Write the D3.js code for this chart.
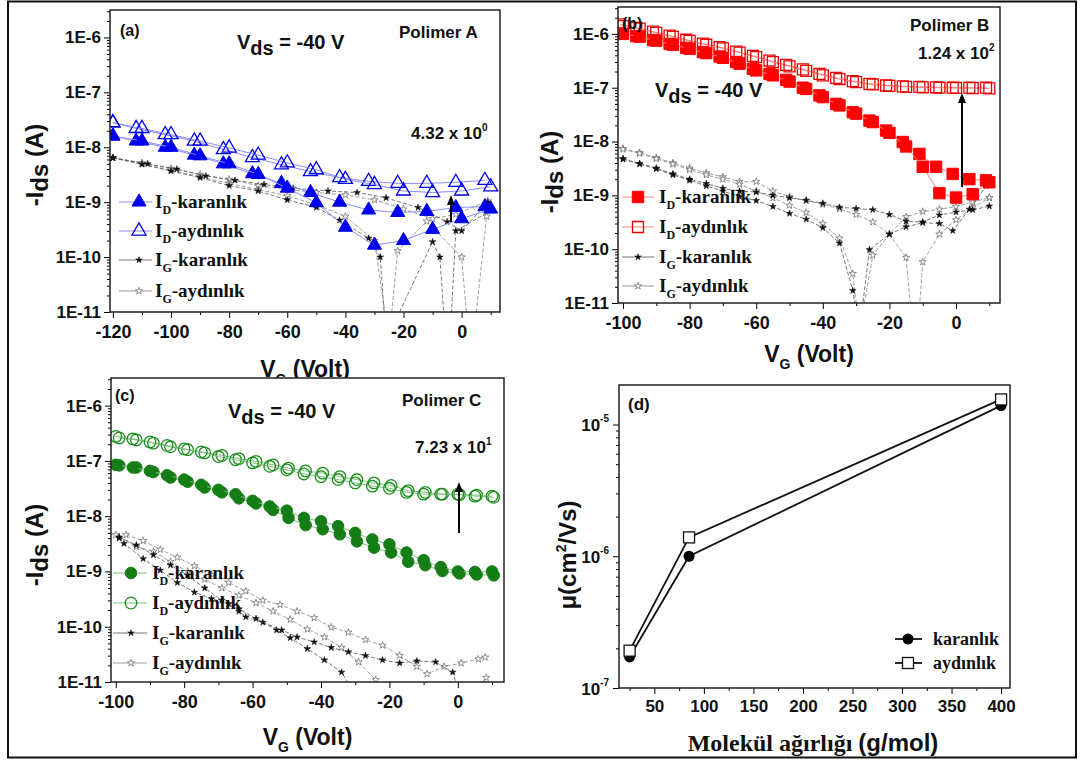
<!DOCTYPE html>
<html>
<head>
<meta charset="utf-8">
<script src="https://cdn.jsdelivr.net/npm/d3@7"></script>
<style>
body { margin: 0; background: #fff; }
svg { display: block; }
</style>
</head>
<body>
<div class="canvas"></div>
<script>
// ---- data: panel (a) Polimer A ----
const aX1 = [-120, -110, -100, -90, -80, -70, -60, -50, -40, -30, -20, -10, 0, 10];
const aX2 = [-120, -112, -102, -92, -82, -72, -62, -52, -42, -32, -22, -12, -2, 8];
const aDark1 = [1.6e-8, 1.3e-8, 1.0e-8, 7.0e-9, 5.0e-9, 3.2e-9, 1.8e-9, 9.8e-10, 3.5e-10, 1.65e-10, 2.0e-10, 3.2e-10, 5.0e-10, 7.5e-10];
const aDark2 = [1.6e-8, 1.3e-8, 1.0e-8, 7.2e-9, 5.0e-9, 3.3e-9, 2.2e-9, 1.5e-9, 1.0e-9, 7.2e-10, 6.5e-10, 6.8e-10, 8.0e-10, 8.3e-10];
const aLight1 = [2.8e-8, 2.2e-8, 1.7e-8, 1.3e-8, 9.7e-9, 7.2e-9, 5.2e-9, 3.9e-9, 2.6e-9, 2.1e-9, 1.6e-9, 1.5e-9, 1.6e-9, 1.9e-9];
const aLight2 = [2.8e-8, 2.2e-8, 1.7e-8, 1.3e-8, 9.1e-9, 6.5e-9, 4.8e-9, 3.6e-9, 2.8e-9, 2.4e-9, 2.2e-9, 2.2e-9, 2.3e-9, 2.5e-9];
const aIgDark1X = [-120, -108, -98, -88, -78, -68, -58, -46, -36, -26, -15, -5, 0, 9];
const aIgDark1 = [6.4e-9, 5.0e-9, 4.0e-9, 3.0e-9, 2.5e-9, 2.1e-9, 1.8e-9, 1.6e-9, 1.5e-9, 1.2e-9, 8.0e-10, 4.4e-10, 3.0e-10, 1.0e-9];
const aIgLight1X = [-120, -110, -100, -90, -80, -70, -60, -50, -40, -30, -20, -10, -2, 9];
const aIgLight1 = [6.4e-9, 5.2e-9, 4.1e-9, 3.2e-9, 2.6e-9, 2.0e-9, 1.7e-9, 1.5e-9, 1.35e-9, 1.1e-9, 7.5e-10, 5.0e-10, 6.0e-10, 1.05e-9];
const aIgDark2X = [-120, -110, -100, -90, -80, -70, -60, -50, -42, -32, -28, -26, -10, -7.5, -5.5, -4, -2, 10];
const aIgDark2 = [6.4e-9, 4.9e-9, 3.7e-9, 2.8e-9, 2.0e-9, 1.6e-9, 1.1e-9, 8.0e-10, 4.7e-10, 2.2e-10, 1.0e-10, 3e-12, 1.9e-10, 1.0e-10, 3e-12, 3e-12, 3.0e-10, 7.0e-10];
const aIgLight2X = [-120, -110, -100, -90, -80, -70, -60, -50, -40, -30, -25, -22, -12, 0, 2.5, 4, 8.6];
const aIgLight2 = [6.4e-9, 5.0e-9, 3.8e-9, 2.9e-9, 2.2e-9, 1.7e-9, 1.3e-9, 9.0e-10, 5.5e-10, 2.0e-10, 3e-12, 1.3e-10, 4.5e-10, 1.0e-10, 3e-12, 3e-12, 5.5e-10];

// ---- data: panel (b) Polimer B ----
const bX1 = [-100, -95, -90, -85, -80, -75, -70, -65, -60, -55, -50, -45, -40, -35, -30, -25, -20, -15, -10, -5, 0, 5, 10];
const bX2 = [-101, -96, -91, -86, -81, -76, -71, -66, -61, -56, -51, -46, -41, -36, -31, -26, -21, -16, -11, -6, -1, 4, 9];
const bDark1 = [1.0e-6, 8.9e-7, 7.5e-7, 6.3e-7, 5.3e-7, 4.4e-7, 3.6e-7, 2.8e-7, 2.1e-7, 1.7e-7, 1.3e-7, 9.5e-8, 6.7e-8, 4.7e-8, 3.3e-8, 2.3e-8, 1.45e-8, 8.1e-9, 3.4e-9, 1.1e-9, 9.1e-10, 1.05e-9, 1.75e-9];
const bDark2 = [1.02e-6, 9.1e-7, 7.7e-7, 6.5e-7, 5.5e-7, 4.6e-7, 3.8e-7, 3.0e-7, 2.25e-7, 1.8e-7, 1.4e-7, 1.0e-7, 7.2e-8, 5.0e-8, 3.5e-8, 2.45e-8, 1.6e-8, 9.8e-9, 5.9e-9, 3.4e-9, 2.5e-9, 2.0e-9, 1.9e-9];
const bLight1 = [1.4e-6, 1.25e-6, 1.05e-6, 8.8e-7, 7.4e-7, 6.3e-7, 5.4e-7, 4.5e-7, 3.7e-7, 3.0e-7, 2.5e-7, 2.05e-7, 1.7e-7, 1.45e-7, 1.27e-7, 1.15e-7, 1.08e-7, 1.04e-7, 1.02e-7, 1.0e-7, 9.9e-8, 9.8e-8, 9.7e-8];
const bLight2 = [1.5e-6, 1.3e-6, 1.1e-6, 9.3e-7, 7.8e-7, 6.6e-7, 5.7e-7, 4.7e-7, 3.9e-7, 3.2e-7, 2.65e-7, 2.2e-7, 1.8e-7, 1.52e-7, 1.32e-7, 1.18e-7, 1.1e-7, 1.06e-7, 1.04e-7, 1.02e-7, 1.0e-7, 1.0e-7, 1.0e-7];
const bIgDark1 = [4.8e-9, 3.9e-9, 3.2e-9, 2.5e-9, 2.0e-9, 1.65e-9, 1.35e-9, 1.2e-9, 1.15e-9, 1.0e-9, 9.0e-10, 8.1e-10, 7.1e-10, 6.0e-10, 5.7e-10, 5.4e-10, 4.4e-10, 3.3e-10, 3.2e-10, 4.3e-10, 4.9e-10, 5.4e-10, 6.3e-10];
const bIgDark2X = [-100, -95, -90, -85, -80, -75, -70, -65, -60, -55, -50, -45, -40, -35, -31, -29, -26, -20, -15, -10, -5, -1, 4, 9];
const bIgDark2 = [4.7e-9, 3.8e-9, 3.1e-9, 2.4e-9, 1.9e-9, 1.5e-9, 1.2e-9, 9.5e-10, 8.0e-10, 6.2e-10, 4.6e-10, 3.6e-10, 2.5e-10, 1.3e-10, 1.7e-11, 3e-12, 9.8e-11, 1.9e-10, 2.6e-10, 3.1e-10, 3.0e-10, 2.2e-10, 5.5e-10, 1.5e-9];
const bIgLight1X = [-100, -95, -90, -85, -80, -75, -70, -65, -60, -55, -50, -45, -40, -35, -30, -25, -20, -15, -13, -11.5, -10, -5, 0, 5, 10];
const bIgLight1 = [7.4e-9, 6.2e-9, 5.0e-9, 4.0e-9, 3.2e-9, 2.6e-9, 2.2e-9, 1.8e-9, 1.8e-9, 1.2e-9, 9.5e-10, 8.0e-10, 6.8e-10, 5.6e-10, 4.4e-10, 3.2e-10, 1.9e-10, 7.0e-11, 3e-12, 3e-12, 5.8e-11, 1.9e-10, 3.5e-10, 6.0e-10, 9.0e-10];
const bIgLight2X = [-100, -95, -90, -85, -80, -75, -70, -65, -60, -55, -50, -45, -40, -35, -31, -29, -25, -20, -15, -10, -5, 0, 5, 10];
const bIgLight2 = [7.2e-9, 6.0e-9, 4.8e-9, 3.8e-9, 3.0e-9, 2.4e-9, 2.0e-9, 1.6e-9, 1.2e-9, 9.0e-10, 6.5e-10, 4.8e-10, 3.0e-10, 1.6e-10, 3.5e-11, 3e-12, 7.7e-11, 1.9e-10, 4.0e-10, 5.0e-10, 5.5e-10, 6.2e-10, 7.5e-10, 9.1e-10];

// ---- data: panel (c) Polimer C ----
const cX1 = [-100, -95, -90, -85, -80, -75, -70, -65, -60, -55, -50, -45, -40, -35, -30, -25, -20, -15, -10, -5, 0, 5, 10];
const cX2 = [-99, -94, -89, -84, -79, -74, -69, -64, -59, -54, -49.5, -44.5, -39.5, -34.5, -29.5, -24.5, -19.5, -14.5, -9.5, -4.5, 0.5, 5.5, 10.5];
const cDark1 = [8.5e-8, 7.6e-8, 6.6e-8, 5.5e-8, 4.6e-8, 3.7e-8, 3.0e-8, 2.5e-8, 1.9e-8, 1.5e-8, 1.26e-8, 9.3e-9, 8.1e-9, 6.6e-9, 5.0e-9, 3.8e-9, 3.1e-9, 2.2e-9, 1.6e-9, 1.2e-9, 1.0e-9, 9.8e-10, 1.0e-9];
const cDark2 = [8.3e-8, 7.6e-8, 6.3e-8, 5.0e-8, 4.2e-8, 3.3e-8, 2.7e-8, 2.1e-8, 1.7e-8, 1.3e-8, 9.3e-9, 6.9e-9, 5.8e-9, 4.7e-9, 3.5e-9, 2.7e-9, 2.2e-9, 1.5e-9, 1.3e-9, 1.02e-9, 9.2e-10, 8.8e-10, 8.5e-10];
const cLight1 = [2.77e-7, 2.5e-7, 2.2e-7, 1.9e-7, 1.65e-7, 1.45e-7, 1.2e-7, 1.05e-7, 9.2e-8, 8.0e-8, 6.9e-8, 5.8e-8, 5.2e-8, 4.6e-8, 4.0e-8, 3.5e-8, 3.2e-8, 2.7e-8, 2.5e-8, 2.5e-8, 2.5e-8, 2.3e-8, 2.3e-8];
const cLight2 = [2.6e-7, 2.4e-7, 2.1e-7, 1.8e-7, 1.6e-7, 1.4e-7, 1.26e-7, 1.1e-7, 9.8e-8, 8.5e-8, 7.4e-8, 6.6e-8, 6.0e-8, 5.2e-8, 4.6e-8, 4.0e-8, 3.6e-8, 2.9e-8, 2.7e-8, 2.5e-8, 2.45e-8, 2.4e-8, 2.2e-8];
const cIgLight1X = [-97, -92, -87, -82, -77, -72, -67, -62, -57, -52, -47, -42, -37, -32, -27, -22, -17, -12, -9, -4, 1, 6, 8];
const cIgLight1 = [4.6e-9, 3.6e-9, 2.5e-9, 1.8e-9, 1.26e-9, 8.8e-10, 6.3e-10, 4.4e-10, 3.0e-10, 2.5e-10, 1.9e-10, 1.45e-10, 9.8e-11, 7.9e-11, 5.8e-11, 4.6e-11, 3.0e-11, 1.9e-11, 1.4e-11, 1.9e-11, 2.2e-11, 2.6e-11, 2.8e-11];
const cIgLight2X = [-100, -94, -89, -84, -79, -74, -69, -64, -59, -54, -49, -44, -39, -34, -29, -24, -20, 4, 8.3];
const cIgLight2 = [4.6e-9, 2.8e-9, 2.3e-9, 1.5e-9, 1.0e-9, 7.2e-10, 5.0e-10, 3.7e-10, 2.7e-10, 1.9e-10, 1.35e-10, 9.0e-11, 6.5e-11, 4.2e-11, 2.3e-11, 1.1e-11, 5e-12, 5e-12, 1.2e-11];
const cIgDark1X = [-99, -97.6, -92, -87, -82, -77, -72, -67, -64, -59, -53, -49, -44, -39, -34, -30];
const cIgDark1 = [4.0e-9, 3.2e-9, 1.7e-9, 1.05e-9, 6.3e-10, 4.2e-10, 3.2e-10, 2.6e-10, 2.1e-10, 1.4e-10, 8.7e-11, 6.3e-11, 4.0e-11, 2.5e-11, 1.5e-11, 6e-12];
const cIgDark2X = [-99, -94, -89, -84, -79, -74, -69, -64, -62, -57, -51.5, -47, -42, -37, -32, -27, -22, -17, -12, -6.5, -1.5, 1];
const cIgDark2 = [4.2e-9, 3.0e-9, 2.0e-9, 1.3e-9, 8.5e-10, 5.0e-10, 3.0e-10, 1.9e-10, 1.5e-10, 1.2e-10, 8.7e-11, 6.5e-11, 5.3e-11, 4.2e-11, 3.5e-11, 3.0e-11, 2.5e-11, 2.2e-11, 2.4e-11, 2.3e-11, 1.5e-11, 5e-12];

// ---- data: panel (d) mobility vs molecular weight ----
const dMw = [25, 85, 400];
const dDark = [1.72e-7, 1.0e-6, 1.39e-5];
const dLight = [1.92e-7, 1.39e-6, 1.55e-5];

// ---- tick values ----
const ivMajors = [1e-11, 1e-10, 1e-9, 1e-8, 1e-7, 1e-6];
const aXTicks = [-120, -100, -80, -60, -40, -20, 0];
const bcXTicks = [-100, -80, -60, -40, -20, 0];
const dXTicks = [50, 100, 150, 200, 250, 300, 350, 400];
const dYMajors = [1e-7, 1e-6, 1e-5];

const SANS = "'Liberation Sans', Arial, sans-serif";
const SERIF = "'Liberation Serif', 'Times New Roman', serif";

const svg = d3.select('.canvas')
    .append('svg')
    .attr('width', 1082)
    .attr('height', 762);

// outer frame
svg.append('rect')
    .attr('x', 8).attr('y', 1.5)
    .attr('width', 1068).attr('height', 756)
    .attr('fill', '#fff')
    .attr('stroke', '#111')
    .attr('stroke-width', 2);

let clipId = 0;

const minorsOf = (majors, top) => {
    const out = [];
    majors.forEach(m => {
        for (let k = 2; k < 10; k++) {
            if (m * k <= top) out.push(m * k);
        }
    });
    return out;
};

const mkText = (g, x, y, size, font, anchor) => g.append('text')
    .attr('x', x).attr('y', y)
    .attr('font-family', font)
    .attr('font-weight', 'bold')
    .attr('font-size', size)
    .attr('text-anchor', anchor || 'start')
    .attr('fill', '#111');

const drawSeries = (g, x, y, xs, ys, st) => {
    const pts = xs.map((v, i) => [v, ys[i]]);
    g.append('path')
        .datum(pts)
        .attr('d', d3.line().x(d => x(d[0])).y(d => y(d[1])))
        .attr('fill', 'none')
        .attr('stroke', st.line)
        .attr('stroke-width', st.lw)
        .attr('stroke-dasharray', st.dash || null);
    g.selectAll(null)
        .data(pts.filter(d => d[1] >= 1e-11))
        .enter()
        .append('path')
        .attr('transform', d => `translate(${x(d[0])},${y(d[1])})`)
        .attr('d', d3.symbol().type(st.type).size(st.size))
        .attr('fill', st.fill)
        .attr('stroke', st.stroke)
        .attr('stroke-width', st.sw);
};

const arrow = (g, x, y0, y1) => {
    g.append('line')
        .attr('x1', x).attr('x2', x)
        .attr('y1', y0).attr('y2', y1 + 8)
        .attr('stroke', '#000').attr('stroke-width', 2);
    g.append('path')
        .attr('d', `M${x - 4},${y1 + 10}L${x},${y1}L${x + 4},${y1 + 10}Z`)
        .attr('fill', '#000');
};

// legend row: line + marker + "I" sub + rest
const legendRow = (g, L, row) => {
    g.append('line')
        .attr('x1', L.x0).attr('x2', L.x1)
        .attr('y1', row.y).attr('y2', row.y)
        .attr('stroke', row.st.legLine || row.st.line)
        .attr('stroke-width', 1);
    g.append('path')
        .attr('transform', `translate(${L.xm},${row.y})`)
        .attr('d', d3.symbol().type(row.st.type).size(row.st.size))
        .attr('fill', row.st.fill)
        .attr('stroke', row.st.stroke)
        .attr('stroke-width', row.st.sw);
    const t = mkText(g, L.xt, row.y + 6, 19, SERIF);
    t.append('tspan').text('I');
    t.append('tspan').attr('font-size', 12).attr('dy', 6).text(row.sub);
    t.append('tspan').attr('dy', -6).text(row.rest);
};

const subText = (g, x, y, size, parts) => {
    const t = mkText(g, x, y, size, SANS);
    parts.forEach(p => {
        t.append('tspan')
            .attr('font-size', p.size || size)
            .attr('dy', p.dy || 0)
            .text(p.t);
    });
    return t;
};

// ---- I-V panel (a, b, c) ----
const ivPanel = (p) => {
    const g = svg.append('g');
    const x = d3.scaleLinear().domain(p.xDomain).range([p.left, p.right]);
    const y = d3.scaleLog().domain([1e-11, Math.pow(10, -5.5)]).range([p.bottom, p.top]);

    g.append('rect')
        .attr('x', p.left).attr('y', p.top)
        .attr('width', p.right - p.left).attr('height', p.bottom - p.top)
        .attr('fill', '#fff');

    const id = 'clip' + (clipId++);
    g.append('clipPath').attr('id', id)
        .append('rect')
        .attr('x', p.left).attr('y', p.top)
        .attr('width', p.right - p.left).attr('height', p.bottom - p.top);
    const plot = g.append('g').attr('clip-path', `url(#${id})`);

    // axes
    const yMin = minorsOf(ivMajors, Math.pow(10, -5.5));
    g.append('g')
        .attr('transform', `translate(${p.left},0)`)
        .call(d3.axisLeft(y).tickValues(yMin).tickSize(3).tickFormat(''))
        .call(a => a.select('.domain').remove());
    g.append('g')
        .attr('transform', `translate(${p.left},0)`)
        .call(d3.axisLeft(y).tickValues(ivMajors).tickSize(6).tickPadding(3)
            .tickFormat(d => '1E' + Math.round(Math.log10(d))))
        .call(a => a.select('.domain').remove())
        .call(a => a.selectAll('text')
            .attr('font-family', SANS).attr('font-weight', 'bold')
            .attr('font-size', 17).attr('fill', '#111'));

    const xMin = p.xTicks.map(v => v + 10).filter(v => v < p.xDomain[1]);
    g.append('g')
        .attr('transform', `translate(0,${p.bottom})`)
        .call(d3.axisBottom(x).tickValues(xMin).tickSize(3).tickFormat(''))
        .call(a => a.select('.domain').remove());
    g.append('g')
        .attr('transform', `translate(0,${p.bottom})`)
        .call(d3.axisBottom(x).tickValues(p.xTicks).tickSize(6).tickPadding(7)
            .tickFormat(d => String(d)))
        .call(a => a.select('.domain').remove())
        .call(a => a.selectAll('text')
            .attr('font-family', SANS).attr('font-weight', 'bold')
            .attr('font-size', 18).attr('fill', '#111'));

    // data
    const igDark = { line: '#555', lw: 0.8, dash: '4,2', type: d3.symbolStar, size: 14, fill: '#111', stroke: '#111', sw: 0.5, legLine: '#777' };
    const igLight = { line: '#888', lw: 0.8, dash: '4,2', type: d3.symbolStar, size: 16, fill: '#fff', stroke: '#666', sw: 0.7, legLine: '#999' };
    p.ig.forEach(s => drawSeries(plot, x, y, s.x, s.y, s.dark ? igDark : igLight));
    p.id.forEach(s => drawSeries(plot, x, y, s.x, s.y, s.dark ? p.darkStyle : p.lightStyle));

    g.append('rect')
        .attr('x', p.left).attr('y', p.top)
        .attr('width', p.right - p.left).attr('height', p.bottom - p.top)
        .attr('fill', 'none').attr('stroke', '#222').attr('stroke-width', 1.5);

    // texts
    mkText(g, p.tag[0], p.tag[1], 16, SANS).text(p.tag[2]);
    mkText(g, p.name[0], p.name[1], 17, SANS).text(p.name[2]);
    subText(g, p.vds[0], p.vds[1], 20, [
        { t: 'V' }, { t: 'ds', dy: 6 }, { t: ' = -40 V', dy: -6 }
    ]);
    subText(g, p.ratio[0], p.ratio[1], 17, [
        { t: p.ratio[2] + ' x 10' }, { t: p.ratio[3], size: 10, dy: -8 }
    ]);
    arrow(g, p.arrow[0], p.arrow[1], p.arrow[2]);

    // legend
    const L = p.legend;
    legendRow(g, L, { y: L.rows[0], st: p.darkStyle, sub: 'D', rest: '-karanlık' });
    legendRow(g, L, { y: L.rows[1], st: p.lightStyle, sub: 'D', rest: '-aydınlık' });
    legendRow(g, L, { y: L.rows[2], st: igDark, sub: 'G', rest: '-karanlık' });
    legendRow(g, L, { y: L.rows[3], st: igLight, sub: 'G', rest: '-aydınlık' });

    // axis titles
    const xt = subText(g, (p.left + p.right) / 2, p.xTitleY, 23, [
        { t: 'V' }, { t: 'G', size: 14, dy: 7 }, { t: ' (Volt)', dy: -7 }
    ]);
    xt.attr('text-anchor', 'middle');
    const yt = subText(g, 0, 0, 24, [
        { t: '-I' }, { t: 'ds', dy: 5 }, { t: ' (A)', dy: -5 }
    ]);
    yt.attr('text-anchor', 'middle')
        .attr('transform', `translate(${p.yTitle[0]},${p.yTitle[1]}) rotate(-90)`);
};

ivPanel({
    left: 110, right: 500, top: 10, bottom: 312,
    xDomain: [-121, 13.2], xTicks: aXTicks,
    darkStyle: { line: '#8c8cff', lw: 1, type: d3.symbolTriangle, size: 85, fill: '#0000ee', stroke: '#0000ee', sw: 1 },
    lightStyle: { line: '#8c8cff', lw: 1, type: d3.symbolTriangle, size: 85, fill: 'none', stroke: '#0000ee', sw: 1.3 },
    id: [
        { x: aX2, y: aLight2 }, { x: aX1, y: aLight1 },
        { x: aX2, y: aDark2, dark: true }, { x: aX1, y: aDark1, dark: true }
    ],
    ig: [
        { x: aIgLight1X, y: aIgLight1 }, { x: aIgLight2X, y: aIgLight2 },
        { x: aIgDark1X, y: aIgDark1, dark: true }, { x: aIgDark2X, y: aIgDark2, dark: true }
    ],
    tag: [120, 36, '(a)'],
    name: [399, 38, 'Polimer A'],
    vds: [237, 49],
    ratio: [411, 139, '4.32', '0'],
    arrow: [451, 222, 195],
    legend: { x0: 119, x1: 152, xm: 139, xt: 155, rows: [202, 231, 260, 291] },
    xTitleY: 377,
    yTitle: [43, 165]
});

ivPanel({
    left: 618, right: 1000, top: 7, bottom: 303,
    xDomain: [-101.5, 13.2], xTicks: bcXTicks,
    darkStyle: { line: '#ff8080', lw: 1, type: d3.symbolSquare, size: 130, fill: '#ff0000', stroke: '#ff0000', sw: 1 },
    lightStyle: { line: '#ff8080', lw: 1, type: d3.symbolSquare, size: 120, fill: 'none', stroke: '#e80000', sw: 1.3 },
    id: [
        { x: bX2, y: bLight2 }, { x: bX1, y: bLight1 },
        { x: bX2, y: bDark2, dark: true }, { x: bX1, y: bDark1, dark: true }
    ],
    ig: [
        { x: bIgLight1X, y: bIgLight1 }, { x: bIgLight2X, y: bIgLight2 },
        { x: bX1, y: bIgDark1, dark: true }, { x: bIgDark2X, y: bIgDark2, dark: true }
    ],
    tag: [622, 29, '(b)'],
    name: [910, 31, 'Polimer B'],
    vds: [655, 97],
    ratio: [918, 59, '1.24', '2'],
    arrow: [962, 187, 93],
    legend: { x0: 622, x1: 654, xm: 638, xt: 659, rows: [197, 227, 257, 286] },
    xTitleY: 362,
    yTitle: [558, 172]
});

ivPanel({
    left: 111, right: 504, top: 378, bottom: 682,
    xDomain: [-101.4, 13.5], xTicks: bcXTicks,
    darkStyle: { line: '#80c080', lw: 1, type: d3.symbolCircle, size: 105, fill: '#157d15', stroke: '#157d15', sw: 1 },
    lightStyle: { line: '#80c080', lw: 1, type: d3.symbolCircle, size: 105, fill: 'none', stroke: '#1a8f1a', sw: 1.3 },
    id: [
        { x: cX2, y: cLight2 }, { x: cX1, y: cLight1 },
        { x: cX2, y: cDark2, dark: true }, { x: cX1, y: cDark1, dark: true }
    ],
    ig: [
        { x: cIgLight1X, y: cIgLight1 }, { x: cIgLight2X, y: cIgLight2 },
        { x: cIgDark1X, y: cIgDark1, dark: true }, { x: cIgDark2X, y: cIgDark2, dark: true }
    ],
    tag: [115, 401, '(c)'],
    name: [402, 406, 'Polimer C'],
    vds: [228, 418],
    ratio: [415, 453, '7.23', '1'],
    arrow: [459, 533, 482],
    legend: { x0: 113, x1: 147, xm: 131, xt: 152, rows: [573, 603, 633, 663] },
    xTitleY: 745,
    yTitle: [43, 545]
});

// ---- panel (d) ----
const dPanel = () => {
    const left = 619, right = 1010, top = 385, bottom = 688;
    const g = svg.append('g');
    const x = d3.scaleLinear().domain([14.3, 409]).range([left, right]);
    const y = d3.scaleLog().domain([1e-7, Math.pow(10, -4.7)]).range([bottom, top]);

    g.append('rect')
        .attr('x', left).attr('y', top)
        .attr('width', right - left).attr('height', bottom - top)
        .attr('fill', '#fff');

    g.append('g')
        .attr('transform', `translate(${left},0)`)
        .call(d3.axisLeft(y).tickValues(minorsOf(dYMajors, Math.pow(10, -4.7))).tickSize(3).tickFormat(''))
        .call(a => a.select('.domain').remove());
    g.append('g')
        .attr('transform', `translate(${left},0)`)
        .call(d3.axisLeft(y).tickValues(dYMajors).tickSize(6).tickPadding(4).tickFormat(''))
        .call(a => a.select('.domain').remove())
        .call(a => a.selectAll('.tick').each(function (d) {
            const t = d3.select(this).append('text')
                .attr('x', -10).attr('y', 6)
                .attr('text-anchor', 'end')
                .attr('font-family', SANS).attr('font-weight', 'bold')
                .attr('font-size', 17).attr('fill', '#111');
            t.append('tspan').text('10');
            t.append('tspan').attr('font-size', 10).attr('dy', -9)
                .text(String(Math.round(Math.log10(d))));
        }));

    g.append('g')
        .attr('transform', `translate(0,${bottom})`)
        .call(d3.axisBottom(x).tickValues(dXTicks.map(v => v - 25)).tickSize(3).tickFormat(''))
        .call(a => a.select('.domain').remove());
    g.append('g')
        .attr('transform', `translate(0,${bottom})`)
        .call(d3.axisBottom(x).tickValues(dXTicks).tickSize(6).tickPadding(6).tickFormat(d => String(d)))
        .call(a => a.select('.domain').remove())
        .call(a => a.selectAll('text')
            .attr('font-family', SANS).attr('font-weight', 'bold')
            .attr('font-size', 17).attr('fill', '#111'));

    const line = d3.line().x(d => x(d[0])).y(d => y(d[1]));
    const dark = dMw.map((v, i) => [v, dDark[i]]);
    const light = dMw.map((v, i) => [v, dLight[i]]);
    [dark, light].forEach(pts => g.append('path').datum(pts)
        .attr('d', line).attr('fill', 'none')
        .attr('stroke', '#111').attr('stroke-width', 1.8));
    g.selectAll(null).data(dark).enter().append('circle')
        .attr('cx', d => x(d[0])).attr('cy', d => y(d[1])).attr('r', 5.5)
        .attr('fill', '#000');
    g.selectAll(null).data(light).enter().append('rect')
        .attr('x', d => x(d[0]) - 5.5).attr('y', d => y(d[1]) - 5.5)
        .attr('width', 11).attr('height', 11)
        .attr('fill', '#fff').attr('stroke', '#111').attr('stroke-width', 1.3);

    g.append('rect')
        .attr('x', left).attr('y', top)
        .attr('width', right - left).attr('height', bottom - top)
        .attr('fill', 'none').attr('stroke', '#222').attr('stroke-width', 1.5);

    mkText(g, 628, 410, 17, SANS).text('(d)');

    // legend
    const legRows = [{ y: 639, t: 'karanlık', dark: true }, { y: 663, t: 'aydınlık' }];
    legRows.forEach(r => {
        g.append('line').attr('x1', 895).attr('x2', 922)
            .attr('y1', r.y).attr('y2', r.y)
            .attr('stroke', '#111').attr('stroke-width', 1.8);
        if (r.dark) {
            g.append('circle').attr('cx', 908).attr('cy', r.y).attr('r', 5.5).attr('fill', '#000');
        } else {
            g.append('rect').attr('x', 902.5).attr('y', r.y - 5.5).attr('width', 11).attr('height', 11)
                .attr('fill', '#fff').attr('stroke', '#111').attr('stroke-width', 1.3);
        }
        mkText(g, 933, r.y + 6, 18, SERIF).text(r.t);
    });

    const xt = mkText(g, 813, 751, 24, SERIF, 'middle');
    xt.append('tspan').text('Molekül ağırlığı ');
    xt.append('tspan').attr('font-family', SANS).text('(g/mol)');

    const yt = mkText(g, 0, 0, 24, SANS, 'middle')
        .attr('transform', `translate(576,555) rotate(-90)`);
    yt.append('tspan').text('μ(cm');
    yt.append('tspan').attr('font-size', 14).attr('dy', -10).text('2');
    yt.append('tspan').attr('dy', 10).text('/Vs)');
};
dPanel();
</script>
</body>
</html>
